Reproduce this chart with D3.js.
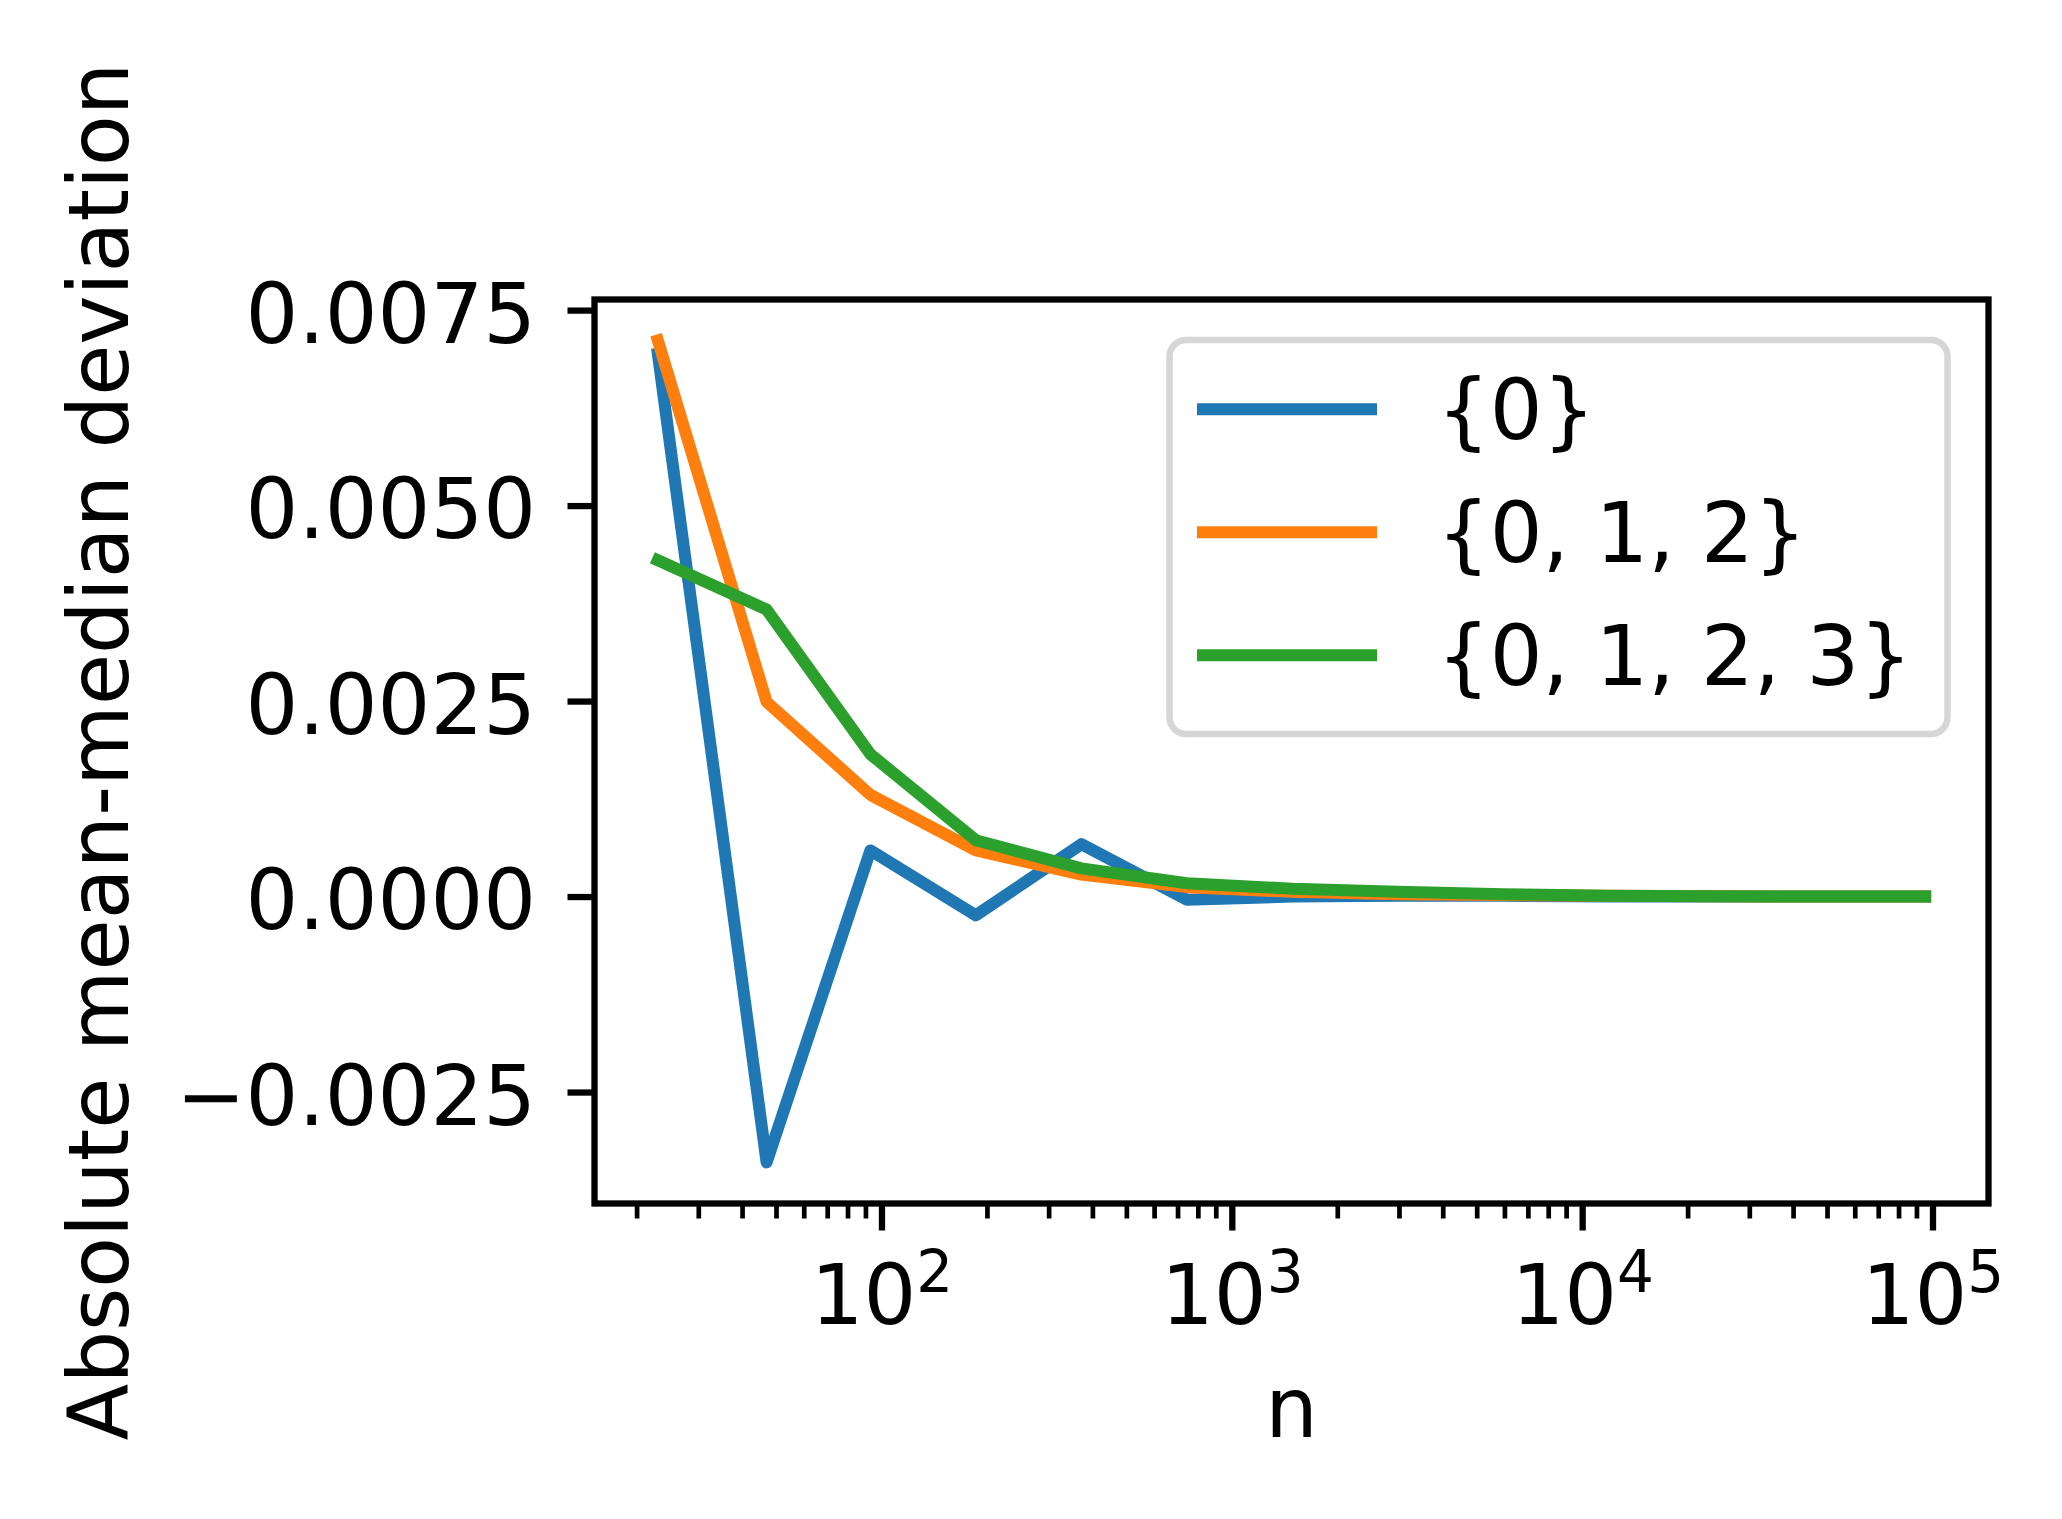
<!DOCTYPE html>
<html>
<head>
<meta charset="utf-8">
<script src="https://cdn.jsdelivr.net/npm/d3@7"></script>
<style>
  html, body { margin: 0; padding: 0; background: #ffffff; }
  svg { display: block; }
  text { font-family: "DejaVu Sans", sans-serif; fill: #000; }
</style>
</head>
<body>
<svg id="chart" width="2062" height="1519"></svg>
<script>
// ---- data ----
const nValues = [23, 47, 93, 186, 372, 744, 1489, 2978, 5955, 11910, 23821, 47642, 95283];
const seriesNames = ["{0}", "{0, 1, 2}", "{0, 1, 2, 3}"];
const seriesColors = ["#1f77b4", "#ff7f0e", "#2ca02c"];
const set0 = [0.00694, -0.00340, 0.00059, -0.00024, 0.00067, -0.00004, 0.00000, 0.00001, 0.00001, 0.00000, 0.00000, 0.00000, 0.00000];
const set012 = [0.00711, 0.00249, 0.00130, 0.00059, 0.00028, 0.00012, 0.00006, 0.00003, 0.00002, 0.00001, 0.000005, 0.00000, 0.00000];
const set0123 = [0.00430, 0.00367, 0.00182, 0.00072, 0.00036, 0.00017, 0.00010, 0.00006, 0.00003, 0.00001, 0.000005, 0.00000, 0.00000];
const yTickValues = [-0.0025, 0.0, 0.0025, 0.005, 0.0075];
const xMajorTicks = [1e2, 1e3, 1e4, 1e5];
const xTickExponents = ["2", "3", "4", "5"];
const xLabel = "n";
const yLabel = "Absolute mean-median deviation";

const seriesValues = [set0, set012, set0123];

// ---- layout ----
const axL = 594.5, axR = 1988.5, axT = 299.5, axB = 1203.5;
const FS = 83;

const svg = d3.select("#chart");
svg.append("rect").attr("width", 2062).attr("height", 1519).attr("fill", "#fff");

// scales with matplotlib-like 5% margins
const lx = nValues.map(Math.log10);
const lo = d3.min(lx), hi = d3.max(lx), mx = 0.05 * (hi - lo);
const x = d3.scaleLog().domain([10 ** (lo - mx), 10 ** (hi + mx)]).range([axL, axR]);
const allY = seriesValues.flat();
const ylo = d3.min(allY), yhi = d3.max(allY), my = 0.05 * (yhi - ylo);
const y = d3.scaleLinear().domain([ylo - my, yhi + my]).range([axB, axT]);

// minor ticks
const xMinorTicks = [];
for (let e = 1; e <= 5; e++) {
  for (let k = 2; k <= 9; k++) {
    const v = k * 10 ** e;
    if (v >= x.domain()[0] && v <= x.domain()[1]) xMinorTicks.push(v);
  }
}

// ---- lines ----
const line = d3.line().x((d, i) => x(nValues[i])).y(d => y(d));
const plot = svg.append("g");
seriesValues.forEach((vals, si) => {
  plot.append("path")
    .datum(vals)
    .attr("d", line)
    .attr("fill", "none")
    .attr("stroke", seriesColors[si])
    .attr("stroke-width", 12)
    .attr("stroke-linejoin", "round")
    .attr("stroke-linecap", "square");
});

// ---- axes ----
const yAxis = d3.axisLeft(y)
  .tickValues(yTickValues)
  .tickSize(27)
  .tickPadding(31.5)
  .tickFormat(d => (d < 0 ? "\u2212" : "") + Math.abs(d).toFixed(4));
const gy = svg.append("g").attr("transform", `translate(${axL},0)`).call(yAxis);
gy.select(".domain").remove();
gy.selectAll(".tick line").attr("stroke", "#000").attr("stroke-width", 6.3);
gy.selectAll(".tick text")
  .attr("dy", "0.39em")
  .style("font-size", FS + "px")
  .style("font-family", "'DejaVu Sans', sans-serif")
  .attr("fill", "#000");

const xMinorAxis = d3.axisBottom(x).tickValues(xMinorTicks).tickSize(15).tickFormat(() => "");
const gxm = svg.append("g").attr("transform", `translate(0,${axB})`).call(xMinorAxis);
gxm.select(".domain").remove();
gxm.selectAll(".tick line").attr("stroke", "#000").attr("stroke-width", 4.7);

const xAxis = d3.axisBottom(x).tickValues(xMajorTicks).tickSize(27).tickFormat(() => "");
const gx = svg.append("g").attr("transform", `translate(0,${axB})`).call(xAxis);
gx.select(".domain").remove();
gx.selectAll(".tick line").attr("stroke", "#000").attr("stroke-width", 6.3);
gx.selectAll(".tick text").remove();
gx.selectAll(".tick").each(function(d, i) {
  const t = d3.select(this).append("text")
    .attr("x", 0)
    .attr("y", 120.5)
    .attr("text-anchor", "middle")
    .style("font-size", FS + "px")
    .style("font-family", "'DejaVu Sans', sans-serif")
    .attr("fill", "#000");
  t.append("tspan").text("10");
  t.append("tspan").attr("dy", -32).style("font-size", "58px").text(xTickExponents[i]);
});

// spines
svg.append("rect")
  .attr("x", axL).attr("y", axT)
  .attr("width", axR - axL).attr("height", axB - axT)
  .attr("fill", "none").attr("stroke", "#000").attr("stroke-width", 6.3)
  .attr("stroke-linejoin", "miter");

// axis labels
svg.append("text")
  .attr("x", (axL + axR) / 2).attr("y", 1437)
  .attr("text-anchor", "middle")
  .style("font-size", FS + "px")
  .text(xLabel);
svg.append("text")
  .attr("transform", `translate(128,${(axT + axB) / 2}) rotate(-90)`)
  .attr("text-anchor", "middle")
  .style("font-size", FS + "px")
  .text(yLabel);

// ---- legend ----
const lg = svg.append("g");
lg.append("rect")
  .attr("x", 1169.5).attr("y", 340).attr("width", 778).attr("height", 394)
  .attr("rx", 16.7).attr("ry", 16.7)
  .attr("fill", "#fff").attr("fill-opacity", 0.8)
  .attr("stroke", "#d6d6d6").attr("stroke-width", 6.5);
seriesNames.forEach((name, i) => {
  const ly = 409.3 + i * 123;
  lg.append("line")
    .attr("x1", 1197).attr("x2", 1377).attr("y1", ly).attr("y2", ly)
    .attr("stroke", seriesColors[i]).attr("stroke-width", 12);
  lg.append("text")
    .attr("x", 1437).attr("y", ly + 30)
    .style("font-size", FS + "px")
    .text(name);
});
</script>
</body>
</html>
